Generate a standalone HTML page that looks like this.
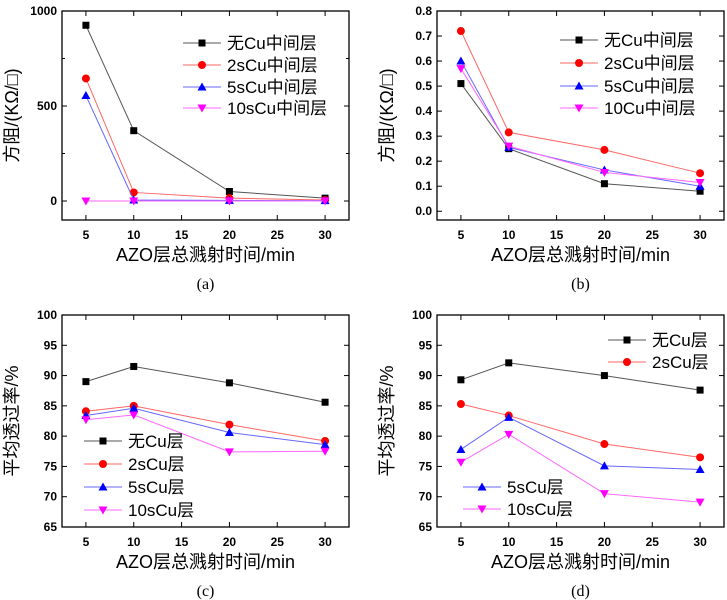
<!DOCTYPE html>
<html><head><meta charset="utf-8"><style>
body{margin:0;background:#fff;width:727px;height:600px;overflow:hidden}
svg{display:block}
.tk{font:bold 12px "Liberation Sans",sans-serif;fill:#000}
.ti{font:18px "Liberation Sans","Noto Sans CJK SC",sans-serif;fill:#000}
.lg{font:17px "Liberation Sans","Noto Sans CJK SC",sans-serif;fill:#000}
.cap{font:16px "Liberation Serif",serif;fill:#000}
</style></head><body>
<svg id="s" width="727" height="600"></svg>
<script>
const categories=[5,10,20,30];
const xTicks=[5,10,15,20,25,30];
const aBlack=[925,370,50,15], aRed=[645,45,15,5], aBlue=[555,5,3,2], aMag=[0,0,0,0];
const bBlack=[0.51,0.25,0.11,0.08], bRed=[0.72,0.315,0.245,0.152], bBlue=[0.60,0.255,0.165,0.10], bMag=[0.57,0.26,0.155,0.115];
const cBlack=[89,91.5,88.8,85.6], cRed=[84.1,85,81.9,79.2], cBlue=[83.4,84.6,80.6,78.6], cMag=[82.7,83.5,77.4,77.5];
const dBlack=[89.3,92.1,90,87.6], dRed=[85.3,83.4,78.7,76.5], dBlue=[77.8,83.1,75.1,74.5], dMag=[75.7,80.3,70.5,69.1];
const aTicks=[0,500,1000], bTicks=[0,0.1,0.2,0.3,0.4,0.5,0.6,0.7,0.8], tTicks=[65,70,75,80,85,90,95,100];
const namesMid=['无Cu中间层','2sCu中间层','5sCu中间层','10sCu中间层'];
const namesB=['无Cu中间层','2sCu中间层','5sCu中间层','10Cu中间层'];
const namesT=['无Cu层','2sCu层','5sCu层','10sCu层'];
const colors=['#000','#f00','#00f','#f0f'];
const lineColors=['#555','#f66','#66f','#f6f'];
const NS='http://www.w3.org/2000/svg', svg=document.getElementById('s');
function el(t,a,p){const e=document.createElementNS(NS,t);for(const k in a)e.setAttribute(k,a[k]);(p||svg).appendChild(e);return e;}
function marker(g,i,x,y){
 const c=colors[i];let m;
 if(i==0)m=el('rect',{x:x-3.5,y:y-3.5,width:7,height:7,fill:c},g);
 else if(i==1)m=el('circle',{cx:x,cy:y,r:4,fill:c},g);
 else if(i==2)m=el('polygon',{points:`${x},${y-4.5} ${x+4.5},${y+3.5} ${x-4.5},${y+3.5}`,fill:c},g);
 else m=el('polygon',{points:`${x},${y+4.5} ${x+4.5},${y-3.5} ${x-4.5},${y-3.5}`,fill:c},g);
 
 
}
function panel(p){
 const g=el('g',{});
 
 
 const X=v=>p.x0+(v-2.5)/30*(p.x1-p.x0);
 const Y=v=>p.y1-(v-p.ymin)/(p.ymax-p.ymin)*(p.y1-p.y0);
 const fr=el('rect',{x:p.x0,y:p.y0,width:p.x1-p.x0,height:p.y1-p.y0,fill:'none',stroke:'#000','stroke-width':1.3},g);
 
 xTicks.forEach(v=>{const x=X(v);
  el('line',{x1:x,y1:p.y1,x2:x,y2:p.y1-5,stroke:'#000'},g);
  el('line',{x1:x,y1:p.y0,x2:x,y2:p.y0+5,stroke:'#000'},g);
  const t=el('text',{x:x,y:p.y1+19,'text-anchor':'middle',class:'tk'},g);t.textContent=v;
  });
 p.ticks.forEach((v,i)=>{const y=Y(v);
  el('line',{x1:p.x0,y1:y,x2:p.x0+5,y2:y,stroke:'#000'},g);
  el('line',{x1:p.x1,y1:y,x2:p.x1-5,y2:y,stroke:'#000'},g);
  if(p.minor&&i<p.ticks.length-1){const ym=Y((v+p.ticks[i+1])/2);
   el('line',{x1:p.x0,y1:ym,x2:p.x0+3,y2:ym,stroke:'#000'},g);el('line',{x1:p.x1,y1:ym,x2:p.x1-3,y2:ym,stroke:'#000'},g);}
  const t=el('text',{x:p.x0-5,y:y+4,'text-anchor':'end',class:'tk'},g);t.textContent=p.fmt(v);
  });
 p.series.forEach((s,i)=>{
  const pl=el('polyline',{points:s.map((v,j)=>X(categories[j])+','+Y(v)).join(' '),fill:'none',stroke:lineColors[i],'stroke-width':1},g);
  
  s.forEach((v,j)=>marker(g,i,X(categories[j]),Y(v)));
 });
 p.legend.forEach((L,i)=>{
  el('line',{x1:L[0],y1:L[1],x2:L[0]+38,y2:L[1],stroke:lineColors[i]},g);
  marker(g,i,L[0]+19,L[1]);
  const t=el('text',{x:L[0]+44,y:L[1]+6,class:'lg'},g);t.textContent=p.names[i];
  
 });
 const xt=el('text',{x:(p.x0+p.x1)/2,y:p.y1+41,'text-anchor':'middle',class:'ti'},g);xt.textContent='AZO层总溅射时间/min';
 
 const cy=(p.y0+p.y1)/2, cx=p.x0-44;
 const yt=el('text',{x:cx,y:cy,'text-anchor':'middle',class:'ti',transform:`rotate(-90 ${cx} ${cy})`},g);yt.textContent=p.ytitle;
 
 const cp=el('text',{x:(p.x0+p.x1)/2,y:p.y1+69,'text-anchor':'middle',class:'cap'},g);cp.textContent='('+p.id+')';
 
}
panel({id:'a',x0:62,x1:349,y0:11,y1:220,ymin:-100,ymax:1000,ticks:aTicks,minor:true,fmt:v=>v,series:[aBlack,aRed,aBlue,aMag],names:namesMid,ytitle:'方阻/(KΩ/□)',legend:[[183,43],[183,65],[183,87],[183,108]]});
panel({id:'b',x0:437,x1:724,y0:11,y1:220,ymin:-0.035,ymax:0.8,ticks:bTicks,minor:false,fmt:v=>v.toFixed(1),series:[bBlack,bRed,bBlue,bMag],names:namesB,ytitle:'方阻/(KΩ/□)',legend:[[560,40],[560,63],[560,86],[560,108]]});
panel({id:'c',x0:62,x1:349,y0:315,y1:527,ymin:65,ymax:100,ticks:tTicks,minor:false,fmt:v=>v,series:[cBlack,cRed,cBlue,cMag],names:namesT,ytitle:'平均透过率/%',legend:[[84,441],[84,464],[84,487],[84,510]]});
panel({id:'d',x0:437,x1:724,y0:315,y1:527,ymin:65,ymax:100,ticks:tTicks,minor:false,fmt:v=>v,series:[dBlack,dRed,dBlue,dMag],names:namesT,ytitle:'平均透过率/%',legend:[[608,340],[608,362],[463,487],[463,509]]});
</script></body></html>
